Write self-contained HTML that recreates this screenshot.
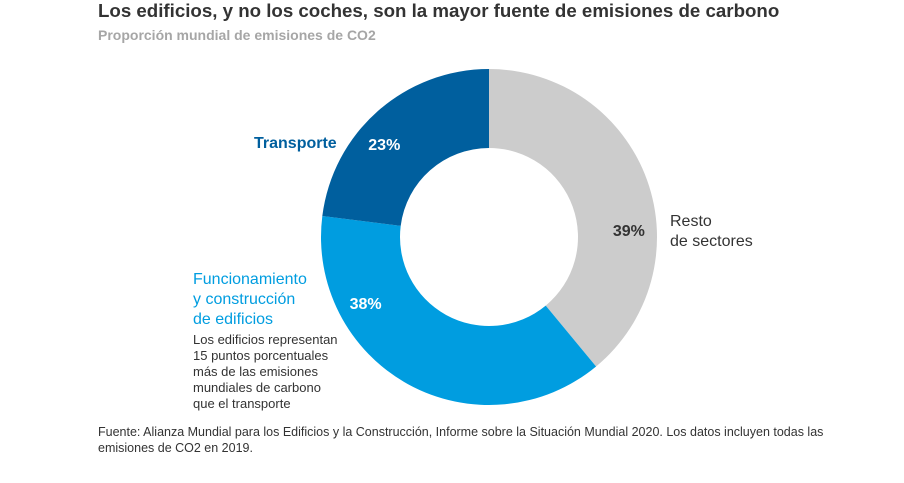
<!DOCTYPE html>
<html><head><meta charset="utf-8"><style>
body{margin:0;background:#fff;width:904px;height:478px;overflow:hidden;font-family:"Liberation Sans",sans-serif;}
svg text{font-family:"Liberation Sans",sans-serif;}
</style></head><body>
<svg id="c" width="904" height="478">
<text x="98" y="17" font-size="18.7" font-weight="bold" fill="#333">Los edificios, y no los coches, son la mayor fuente de emisiones de carbono</text>
<text x="98" y="40" font-size="14" font-weight="bold" fill="#a6a6a6">Proporción mundial de emisiones de CO2</text>
<g id="slices"></g>
<text x="254" y="148" font-size="16" font-weight="bold" fill="#005f9e">Transporte</text>
<text x="670" y="226" font-size="16" fill="#333">Resto</text>
<text x="670" y="246" font-size="16" fill="#333">de sectores</text>
<g font-size="16" fill="#009de0">
<text x="193" y="284">Funcionamiento</text>
<text x="193" y="304">y construcción</text>
<text x="193" y="324">de edificios</text>
</g>
<g font-size="13" fill="#333">
<text x="193" y="344">Los edificios representan</text>
<text x="193" y="360">15 puntos porcentuales</text>
<text x="193" y="376">más de las emisiones</text>
<text x="193" y="392">mundiales de carbono</text>
<text x="193" y="408">que el transporte</text>
</g>
<g font-size="12.5" fill="#333">
<text x="98" y="436">Fuente: Alianza Mundial para los Edificios y la Construcción, Informe sobre la Situación Mundial 2020. Los datos incluyen todas las</text>
<text x="98" y="452">emisiones de CO2 en 2019.</text>
</g>
</svg>
<script>
const categories=["Resto de sectores","Edificios","Transporte"];
const values=[39,38,23];
const colors=["#cccccc","#009de0","#005f9e"];
const labelColors=["#333","#fff","#fff"];
const labelShift=[17,33,-7]; // degrees offset of value label from slice middle (style)
const cx=489,cy=237,R=168,r=89,LR=140;
const g=document.getElementById('slices');
const ns="http://www.w3.org/2000/svg";
const total=values.reduce((a,b)=>a+b,0);
let acc=0;
function pt(a,rad){return [cx+rad*Math.sin(a),cy-rad*Math.cos(a)];}
values.forEach((v,i)=>{
  const a0=acc/total*2*Math.PI; acc+=v; const a1=acc/total*2*Math.PI;
  const lg=(a1-a0)>Math.PI?1:0;
  const p0=pt(a0,R),p1=pt(a1,R),q1=pt(a1,r),q0=pt(a0,r);
  const p=document.createElementNS(ns,'path');
  p.setAttribute('d',`M${p0}A${R},${R} 0 ${lg} 1 ${p1}L${q1}A${r},${r} 0 ${lg} 0 ${q0}Z`);
  p.setAttribute('fill',colors[i]);
  
  
  g.appendChild(p);
  const m=(a0+a1)/2+labelShift[i]*Math.PI/180, l=pt(m,LR);
  const t=document.createElementNS(ns,'text');
  t.setAttribute('x',l[0]);t.setAttribute('y',l[1]+6);
  t.setAttribute('text-anchor','middle');t.setAttribute('font-size','16');t.setAttribute('font-weight','bold');
  t.setAttribute('fill',labelColors[i]);
  t.textContent=v+'%';
  
  
  g.appendChild(t);
});
</script>
</body></html>
